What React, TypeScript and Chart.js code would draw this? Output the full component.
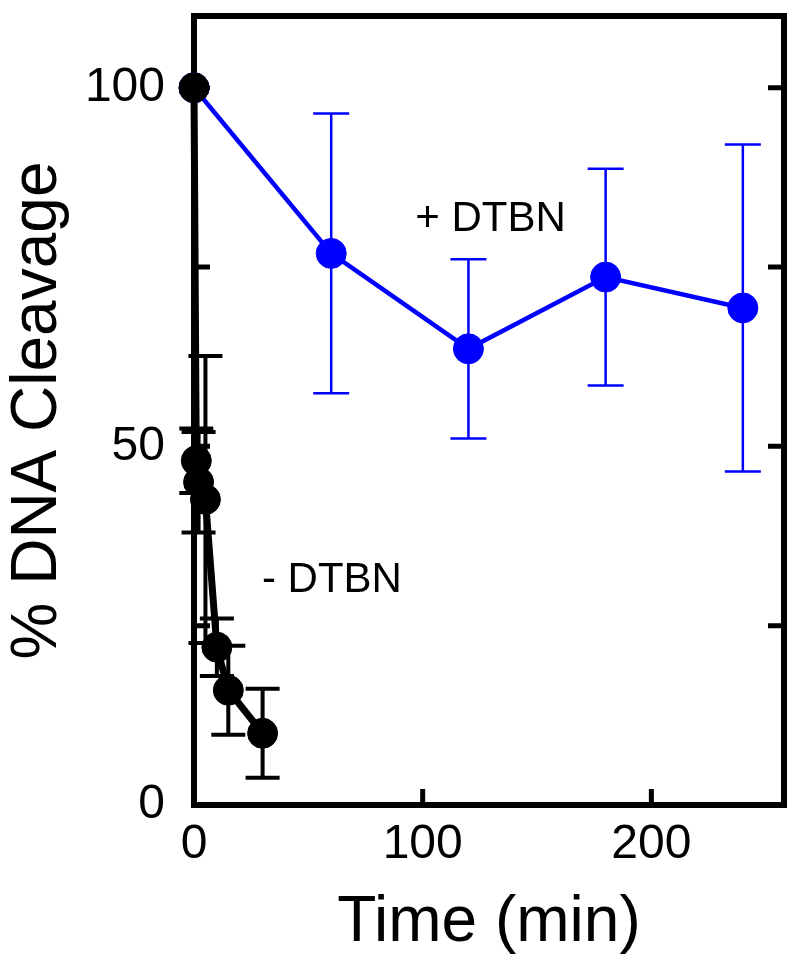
import React, { useEffect, useRef } from "react";
import { Chart, registerables } from "chart.js";

Chart.register(...registerables);

const FONT = "'Liberation Sans', Arial, Helvetica, sans-serif";

// - DTBN series (black)
const MINUS_TIME = [0, 1, 2, 5, 10, 15, 30];
const MINUS_CLEAVAGE = [100, 48, 45, 42.6, 22, 16, 10];
const MINUS_ERR = [0, 4.5, 7, 20, 4, 6.2, 6.2];

// + DTBN series (blue)
const PLUS_TIME = [0, 60, 120, 180, 240];
const PLUS_CLEAVAGE = [100, 76.9, 63.6, 73.6, 69.3];
const PLUS_ERR = [0, 19.5, 12.5, 15.1, 22.8];

// axes
const X_TICKS = [0, 100, 200];
const Y_TICKS = [0, 50, 100];
const Y_INNER_TICKS = [25, 50, 75, 100];
const X_INNER_TICKS = [100, 200];
const X_MIN = 0;
const X_MAX = 258;
const Y_MIN = 0;
const Y_MAX = 110;

const X_TITLE = "Time (min)";
const Y_TITLE = "% DNA Cleavage";

// in-plot labels (data coordinates)
const LABEL_TEXTS = ["+ DTBN", "- DTBN"];
const LABEL_X = [129.7, 60.3];
const LABEL_Y = [81.6, 31.3];

const SERIES_COLORS = ["#000000", "#0000ff"];

export default function App() {
  const ref = useRef<HTMLCanvasElement | null>(null);

  useEffect(() => {
    if (!ref.current) return;

    const errorSets = [
      { xs: MINUS_TIME, ys: MINUS_CLEAVAGE, es: MINUS_ERR, color: SERIES_COLORS[0], lw: 4, cap: 17 },
      { xs: PLUS_TIME, ys: PLUS_CLEAVAGE, es: PLUS_ERR, color: SERIES_COLORS[1], lw: 2.5, cap: 18 },
    ];

    const framePlugin = {
      id: "frameAndErrors",
      beforeDatasetsDraw(chart: any) {
        const { ctx, chartArea: a, scales } = chart;
        const xs = scales.x;
        const ys = scales.y;
        ctx.save();
        // error bars (under the points)
        for (let k = errorSets.length - 1; k >= 0; k--) {
          const s = errorSets[k];
          ctx.strokeStyle = s.color;
          ctx.lineWidth = s.lw;
          ctx.lineCap = "butt";
          s.xs.forEach((xv: number, i: number) => {
            const e = s.es[i];
            if (!e) return;
            const px = xs.getPixelForValue(xv);
            const top = ys.getPixelForValue(s.ys[i] + e);
            const bot = ys.getPixelForValue(s.ys[i] - e);
            ctx.beginPath();
            ctx.moveTo(px, top);
            ctx.lineTo(px, bot);
            ctx.moveTo(px - s.cap, top);
            ctx.lineTo(px + s.cap, top);
            ctx.moveTo(px - s.cap, bot);
            ctx.lineTo(px + s.cap, bot);
            ctx.stroke();
          });
        }
        // frame
        ctx.strokeStyle = "#000";
        ctx.lineWidth = 6;
        ctx.strokeRect(a.left, a.top, a.right - a.left, a.bottom - a.top);
        // inward ticks
        ctx.lineWidth = 5;
        ctx.beginPath();
        Y_INNER_TICKS.forEach((v) => {
          const y = ys.getPixelForValue(v);
          ctx.moveTo(a.left, y);
          ctx.lineTo(a.left + 16, y);
          ctx.moveTo(a.right - 16, y);
          ctx.lineTo(a.right, y);
        });
        X_INNER_TICKS.forEach((v) => {
          const x = xs.getPixelForValue(v);
          ctx.moveTo(x, a.bottom);
          ctx.lineTo(x, a.bottom - 16);
        });
        ctx.stroke();
        ctx.restore();
      },
      afterDatasetsDraw(chart: any) {
        const { ctx, scales } = chart;
        ctx.save();
        ctx.fillStyle = "#000";
        ctx.font = `42px ${FONT}`;
        ctx.textAlign = "center";
        ctx.textBaseline = "middle";
        LABEL_TEXTS.forEach((t, i) => {
          ctx.fillText(t, scales.x.getPixelForValue(LABEL_X[i]), scales.y.getPixelForValue(LABEL_Y[i]));
        });
        ctx.restore();
      },
    };

    const chart = new Chart(ref.current, {
      type: "scatter",
      data: {
        datasets: [
          {
            label: "- DTBN",
            data: MINUS_TIME.map((x, i) => ({ x, y: MINUS_CLEAVAGE[i] })),
            showLine: true,
            borderColor: SERIES_COLORS[0],
            backgroundColor: SERIES_COLORS[0],
            borderWidth: 7,
            pointRadius: 15,
            pointBorderWidth: 1,
            pointBorderColor: SERIES_COLORS[0],
            pointBackgroundColor: SERIES_COLORS[0],
            clip: false as any,
          },
          {
            label: "+ DTBN",
            data: PLUS_TIME.map((x, i) => ({ x, y: PLUS_CLEAVAGE[i] })),
            showLine: true,
            borderColor: SERIES_COLORS[1],
            backgroundColor: SERIES_COLORS[1],
            borderWidth: 4.5,
            pointRadius: 15,
            pointBorderWidth: 1,
            pointBorderColor: SERIES_COLORS[1],
            pointBackgroundColor: SERIES_COLORS[1],
            clip: false as any,
          },
        ],
      },
      options: {
        animation: false,
        responsive: false,
        devicePixelRatio: 1,
        layout: { padding: { left: 0, right: 14, top: 15, bottom: 0 } },
        plugins: {
          legend: { display: false },
          tooltip: { enabled: false },
        },
        scales: {
          x: {
            type: "linear",
            min: X_MIN,
            max: X_MAX,
            grid: { display: false, drawTicks: false },
            border: { display: false },
            afterBuildTicks: (axis: any) => {
              axis.ticks = X_TICKS.map((v) => ({ value: v }));
            },
            afterFit: (axis: any) => {
              axis.height = 168;
              axis.paddingLeft = 0;
              axis.paddingRight = 0;
              axis.paddingTop = 0;
              axis.paddingBottom = 0;
            },
            ticks: {
              color: "#000",
              font: { family: FONT, size: 48 },
              padding: 11,
              maxRotation: 0,
              autoSkip: false,
            },
            title: {
              display: true,
              text: X_TITLE,
              color: "#000",
              font: { family: FONT, size: 64 },
              padding: { top: 0, bottom: 11 },
            },
          },
          y: {
            type: "linear",
            min: Y_MIN,
            max: Y_MAX,
            grid: { display: false, drawTicks: false },
            border: { display: false },
            afterBuildTicks: (axis: any) => {
              axis.ticks = Y_TICKS.map((v) => ({ value: v }));
            },
            afterFit: (axis: any) => {
              axis.width = 194;
              axis.paddingLeft = 0;
              axis.paddingRight = 0;
              axis.paddingTop = 0;
              axis.paddingBottom = 0;
            },
            ticks: {
              color: "#000",
              font: { family: FONT, size: 48 },
              padding: 29,
              autoSkip: false,
            },
            title: {
              display: true,
              text: Y_TITLE,
              color: "#000",
              font: { family: FONT, size: 64 },
              padding: { top: 0, bottom: 0 },
            },
          },
        },
      },
      plugins: [framePlugin],
    } as any);

    return () => chart.destroy();
  }, []);

  return (
    <div style={{ position: "absolute", left: 0, top: 0, width: 800, height: 973, background: "#fff" }}>
      <canvas ref={ref} width={800} height={973} style={{ width: 800, height: 973, display: "block" }} />
    </div>
  );
}
